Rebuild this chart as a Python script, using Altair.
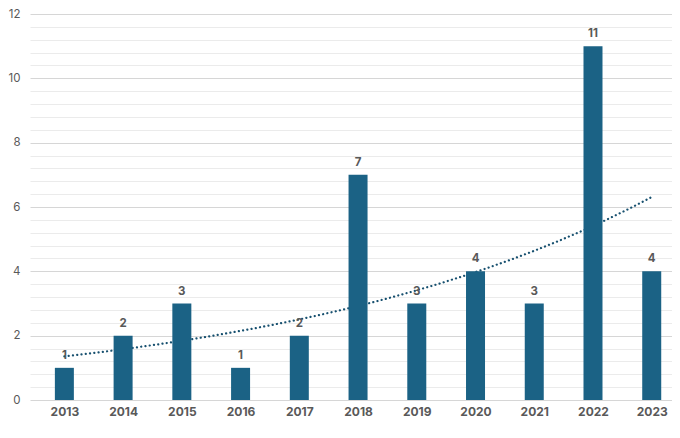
import pandas as pd
import altair as alt

# Data
years = [2013, 2014, 2015, 2016, 2017, 2018, 2019, 2020, 2021, 2022, 2023]
counts = [1, 2, 3, 1, 2, 7, 3, 4, 3, 11, 4]

df = pd.DataFrame({"idx": list(range(len(years))), "year": years, "count": counts})

major_ticks = [0, 2, 4, 6, 8, 10, 12]
minor_ticks = [round(v * 0.4, 1) for v in range(31) if round(v * 0.4, 1) not in major_ticks]

FONT = "Inter"
BAR = "#1b6285"
TREND = "#17506f"
TEXT = "#595959"

x = alt.X("idx:Q").scale(domain=[-0.5, 10.26], nice=False, zero=False).axis(
    values=list(range(len(years))),
    labelExpr="datum.value + 2013",
    title=None, grid=False, ticks=False, domain=False,
    labelFontWeight="bold", labelFontSize=12, labelColor=TEXT,
    labelPadding=6, labelFont=FONT,
)
yscale = alt.Scale(domain=[0, 12], nice=False)

base = alt.Chart(df)

# exponential trendline (fit on log of counts, like Excel)
trend = base.transform_calculate(
    lc="log(datum.count)"
).transform_regression(
    "idx", "lc", method="poly", order=1
).transform_calculate(
    t="exp(datum.lc)"
).mark_line(
    color=TREND, strokeWidth=2.2, strokeDash=[0.1, 4.2], strokeCap="round"
).encode(
    x=x,
    y=alt.Y("t:Q", scale=yscale).axis(
        values=minor_ticks, labels=False, ticks=False, domain=False,
        grid=True, gridColor="#ebebeb", gridWidth=1, title=None, orient="left",
    ),
)

bars = base.mark_bar(color=BAR, size=19).encode(
    x=x,
    y=alt.Y("count:Q", scale=yscale).axis(
        values=major_ticks, title=None, ticks=False,
        domain=False, grid=True, gridColor="#d6d6d6", gridWidth=1,
        labelColor=TEXT, labelFontSize=11.5, labelPadding=10, labelFont=FONT,
        orient="left",
    ),
)

labels = base.mark_text(
    baseline="bottom", dy=-7, fontSize=11.5, fontWeight="bold", color=TEXT, font=FONT
).encode(
    x=x,
    y=alt.Y("count:Q", scale=yscale),
    text="count:Q",
)

chart = alt.layer(trend, bars, labels).resolve_axis(
    y="independent"
).properties(
    width=642, height=386,
    autosize=alt.AutoSizeParams(type="none"),
    padding={"left": 22, "top": 6, "right": 0, "bottom": 22},
).configure_view(stroke=None)

chart.save("out.html", embed_options={"renderer": "svg", "actions": False})
